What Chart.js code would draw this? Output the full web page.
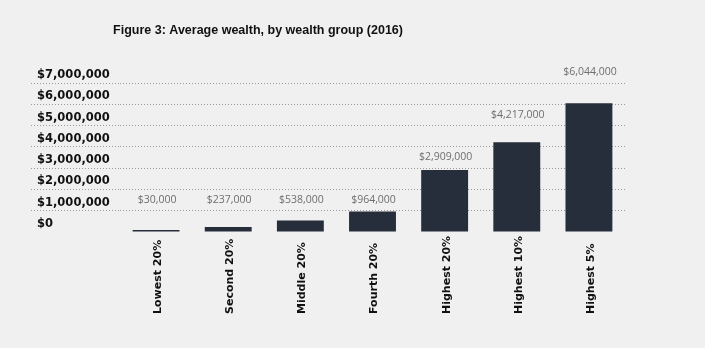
<!DOCTYPE html>
<html>
<head>
<meta charset="utf-8">
<script src="https://cdn.jsdelivr.net/npm/chart.js@4/dist/chart.umd.min.js"></script>
<style>
html,body{margin:0;padding:0;background:#f0f0f0;}
#wrap{width:705px;height:348px;position:relative;}
</style>
</head>
<body>
<div id="wrap"><canvas id="c" width="705" height="348"></canvas></div>
<script>
const categories = ["Lowest 20%","Second 20%","Middle 20%","Fourth 20%","Highest 20%","Highest 10%","Highest 5%"];
const wealthValues = [30000,237000,538000,964000,2909000,4217000,6044000];
const valueLabels = ["$30,000","$237,000","$538,000","$964,000","$2,909,000","$4,217,000","$6,044,000"];
const yTickValues = [0,1000000,2000000,3000000,4000000,5000000,6000000,7000000];
const titleText = "Figure 3: Average wealth, by wealth group (2016)";

function fmtMoney(v){ return "$" + v.toLocaleString("en-US"); }

const overlay = {
  id: "overlay",
  afterDraw(chart){
    const ctx = chart.ctx;
    const meta = chart.getDatasetMeta(0);
    const ys = chart.scales.y;
    ctx.save();
    ctx.fillStyle = "#111111";
    ctx.font = "bold 12.5px 'Liberation Sans'";
    ctx.textAlign = "center";
    ctx.textBaseline = "middle";
    ctx.fillText(titleText, 258, 31);
    ctx.font = "10.5px 'Open Sans'";
    ctx.fillStyle = "#6e6e6e";
    meta.data.forEach((bar, i) => {
      const step = 1000000;
      const slot = (Math.ceil(wealthValues[i] / step) + 0.5) * step;
      ctx.fillText(valueLabels[i], bar.x + 1, ys.getPixelForValue(slot));
    });
    ctx.font = "bold 11px 'DejaVu Sans'";
    ctx.fillStyle = "#111111";
    ctx.textAlign = "left";
    meta.data.forEach((bar, i) => {
      ctx.save();
      ctx.translate(bar.x + 2, 314);
      ctx.rotate(-Math.PI/2);
      ctx.fillText(categories[i], 0, 0);
      ctx.restore();
    });
    ctx.restore();
  }
};

new Chart(document.getElementById("c"), {
  type: "bar",
  data: {
    labels: categories,
    datasets: [{
      data: wealthValues,
      backgroundColor: "#262d3b",
      barPercentage: 0.65,
      categoryPercentage: 1.0,
      minBarLength: 2
    }]
  },
  options: {
    responsive: false,
    animation: false,
    layout: { padding: { left: 37, right: 80, top: 83, bottom: 116 } },
    plugins: { legend: { display: false }, title: { display: false }, tooltip: { enabled: false } },
    scales: {
      x: {
        afterFit(scale){ scale.height = 0; },
        grid: { display: false },
        border: { display: false },
        ticks: { display: false }
      },
      y: {
        min: 0, max: 7000000,
        afterBuildTicks(scale){ scale.ticks = yTickValues.map(v => ({value: v})); },
        afterFit(scale){ scale.width = 83; },
        border: { display: false, dash: [1, 2] },
        grid: {
          color: ctx => (ctx.tick && ctx.tick.value === 0) ? "rgba(0,0,0,0)" : "#9a9a9a",
          lineWidth: 1,
          tickLength: 89,
          tickBorderDash: [1, 2]
        },
        ticks: {
          crossAlign: "far",
          labelOffset: -8,
          padding: 3,
          color: "#111111",
          font: { family: "'DejaVu Sans'", weight: "bold", size: 11.5 },
          callback: v => fmtMoney(v)
        }
      }
    }
  },
  plugins: [overlay]
});
</script>
</body>
</html>
